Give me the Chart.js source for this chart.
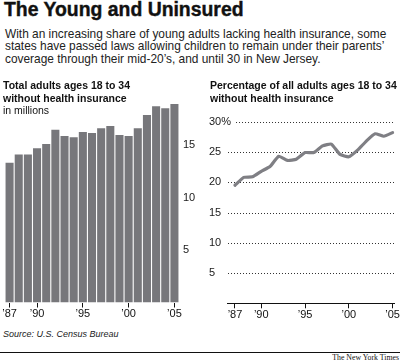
<!DOCTYPE html>
<html>
<head>
<meta charset="utf-8">
<script src="https://cdn.jsdelivr.net/npm/chart.js@4/dist/chart.umd.min.js"></script>
<style>
  html, body { margin:0; padding:0; background:#fff; }
  body { width:400px; height:362px; position:relative; overflow:hidden; font-family:"Liberation Sans", Arial, sans-serif; color:#1a1a1a; }
  .abs { position:absolute; }
  #title { left:4px; top:0px; font-size:19.4px; line-height:19px; font-weight:bold; -webkit-text-stroke:0.4px #111; color:#111; white-space:nowrap; }
  #sub { left:5px; top:28px; font-size:11.9px; line-height:12.3px; white-space:nowrap; color:#222; }
  .ctitle { top:79px; font-size:10.5px; line-height:12.5px; white-space:nowrap; color:#111; }
  .ctitle b { font-weight:bold; }
  #lt { left:3px; }
  #rt { left:210px; }
  #src { left:3px; top:328.6px; font-size:9px; line-height:10px; font-style:italic; color:#222; white-space:nowrap; }
  #rule { left:0; top:352px; width:400px; height:1px; background:#111; }
  #nyt { right:1px; top:354px; font-family:"Liberation Serif", "Times New Roman", serif; font-size:7.8px; line-height:8px; color:#111; white-space:nowrap; }
  canvas { position:absolute; }
</style>
</head>
<body>
<canvas id="left" width="200" height="240" style="left:0;top:80px;width:200px;height:240px;"></canvas>
<canvas id="right" width="200" height="220" style="left:200px;top:100px;width:200px;height:220px;"></canvas>
<div id="title" class="abs">The Young and Uninsured</div>
<div id="sub" class="abs">With an increasing share of young adults lacking health insurance, some<br>states have passed laws allowing children to remain under their parents’<br>coverage through their mid-20’s, and until 30 in New Jersey.</div>
<div id="lt" class="abs ctitle"><b>Total adults ages 18 to 34<br>without health insurance</b><br>in millions</div>
<div id="rt" class="abs ctitle"><b>Percentage of all adults ages 18 to 34<br>without health insurance</b></div>
<div id="src" class="abs">Source: U.S. Census Bureau</div>
<div id="rule" class="abs"></div>
<div id="nyt" class="abs">The New York Times</div>
<script>
const years = [1987,1988,1989,1990,1991,1992,1993,1994,1995,1996,1997,1998,1999,2000,2001,2002,2003,2004,2005];
const uninsuredMillions = [13.3,14.1,14.1,14.7,15.1,16.45,15.85,15.75,16.25,16.15,16.6,16.8,15.95,15.85,16.6,17.85,18.7,18.5,18.9];
const uninsuredPct = [19.5,20.8,20.9,21.8,22.6,24.3,23.6,23.8,24.9,24.9,26.0,26.3,24.6,24.2,25.3,26.8,28.0,27.6,28.2];
const xTickYears = [1987,1990,1995,2000,2005];
const xTickLabels = ["’87","’90","’95","’00","’05"];
const leftYTicks = [5,10,15];
const rightYTicks = [5,10,15,20,25,30];
const rightYLabels = ["5","10","15","20","25","30%"];

Chart.defaults.font.family = '"Liberation Sans", Arial, sans-serif';
Chart.defaults.color = '#1a1a1a';

const tickFont = { size: 11 };

new Chart(document.getElementById('left'), {
  type: 'bar',
  data: {
    labels: years.map(String),
    datasets: [{
      data: uninsuredMillions,
      backgroundColor: '#77777b',
      borderWidth: 0,
      barPercentage: 0.88,
      categoryPercentage: 1.0
    }]
  },
  options: {
    responsive: false,
    animation: false,
    devicePixelRatio: 1,
    layout: { padding: { top: 12.5, left: 5, right: 0, bottom: 0 } },
    plugins: { legend: { display: false }, tooltip: { enabled: false } },
    scales: {
      x: {
        type: 'category',
        offset: true,
        border: { display: false },
        grid: {
          offset: false,
          drawOnChartArea: false,
          drawTicks: true,
          tickLength: 5,
          lineWidth: 1,
          color: (ctx) => (ctx.tick && xTickYears.indexOf(years[ctx.index]) >= 0) ? '#111' : 'rgba(0,0,0,0)'
        },
        ticks: {
          autoSkip: false,
          maxRotation: 0,
          padding: 0,
          font: tickFont,
          color: '#111',
          callback: (value, index) => {
            const k = xTickYears.indexOf(years[index]);
            return k >= 0 ? xTickLabels[k] : '';
          }
        },
        afterFit: (s) => { s.height = 17.5; }
      },
      y: {
        position: 'right',
        min: 0,
        max: 20,
        z: 1,
        border: { display: false },
        grid: { color: '#ffffff', lineWidth: 1, drawTicks: false },
        ticks: { padding: 4, font: tickFont, color: '#1a1a1a' },
        afterBuildTicks: (s) => { s.ticks = leftYTicks.map(v => ({ value: v })); },
        afterFit: (s) => { s.width = 21; }
      }
    }
  }
});

const dottedGrid = {
  id: 'dottedGrid',
  beforeDatasetsDraw(chart) {
    const { ctx, chartArea, scales } = chart;
    const y = scales.y;
    ctx.save();
    ctx.font = '11px "Liberation Sans", Arial, sans-serif';
    ctx.strokeStyle = '#333';
    ctx.lineWidth = 1;
    ctx.setLineDash([1, 2]);
    rightYTicks.forEach((v, i) => {
      const py = Math.round(y.getPixelForValue(v)) + 0.5;
      const lw = ctx.measureText(rightYLabels[i]).width;
      const x0 = Math.max(chartArea.left + 1, y.left + lw + 5);
      ctx.beginPath();
      ctx.moveTo(x0, py);
      ctx.lineTo(chartArea.right, py);
      ctx.stroke();
    });
    ctx.restore();
  }
};

new Chart(document.getElementById('right'), {
  type: 'line',
  data: {
    datasets: [{
      data: years.map((yr, i) => ({ x: yr, y: uninsuredPct[i] })),
      borderColor: '#7f7f84',
      borderWidth: 3.2,
      pointRadius: 0,
      tension: 0.15,
      borderCapStyle: 'round',
      borderJoinStyle: 'round',
      fill: false
    }]
  },
  options: {
    responsive: false,
    animation: false,
    devicePixelRatio: 1,
    layout: { padding: { top: 15.66, left: 9, right: 5, bottom: 0 } },
    plugins: { legend: { display: false }, tooltip: { enabled: false } },
    scales: {
      x: {
        type: 'linear',
        min: 1986.09,
        max: 2005.23,
        border: { display: true, color: '#111', width: 1 },
        grid: { drawOnChartArea: false, drawTicks: true, tickLength: 5, color: '#111', lineWidth: 1 },
        ticks: {
          padding: 0,
          font: tickFont,
          color: '#111',
          maxRotation: 0,
          autoSkip: false,
          callback: (value) => {
            const k = xTickYears.indexOf(Math.round(value));
            return k >= 0 ? xTickLabels[k] : '';
          }
        },
        afterBuildTicks: (s) => { s.ticks = xTickYears.map(v => ({ value: v })); },
        afterFit: (s) => { s.height = 16.7; }
      },
      y: {
        position: 'left',
        min: 0,
        max: 31,
        border: { display: false },
        grid: { display: false, drawTicks: false },
        ticks: {
          mirror: true,
          crossAlign: 'near',
          padding: -18,
          font: tickFont,
          color: '#1a1a1a',
          callback: (value) => {
            const k = rightYTicks.indexOf(value);
            return k >= 0 ? rightYLabels[k] : '';
          }
        },
        afterBuildTicks: (s) => { s.ticks = rightYTicks.map(v => ({ value: v })); },
        afterFit: (s) => { s.width = 18; }
      }
    }
  },
  plugins: [dottedGrid]
});
</script>
</body>
</html>
